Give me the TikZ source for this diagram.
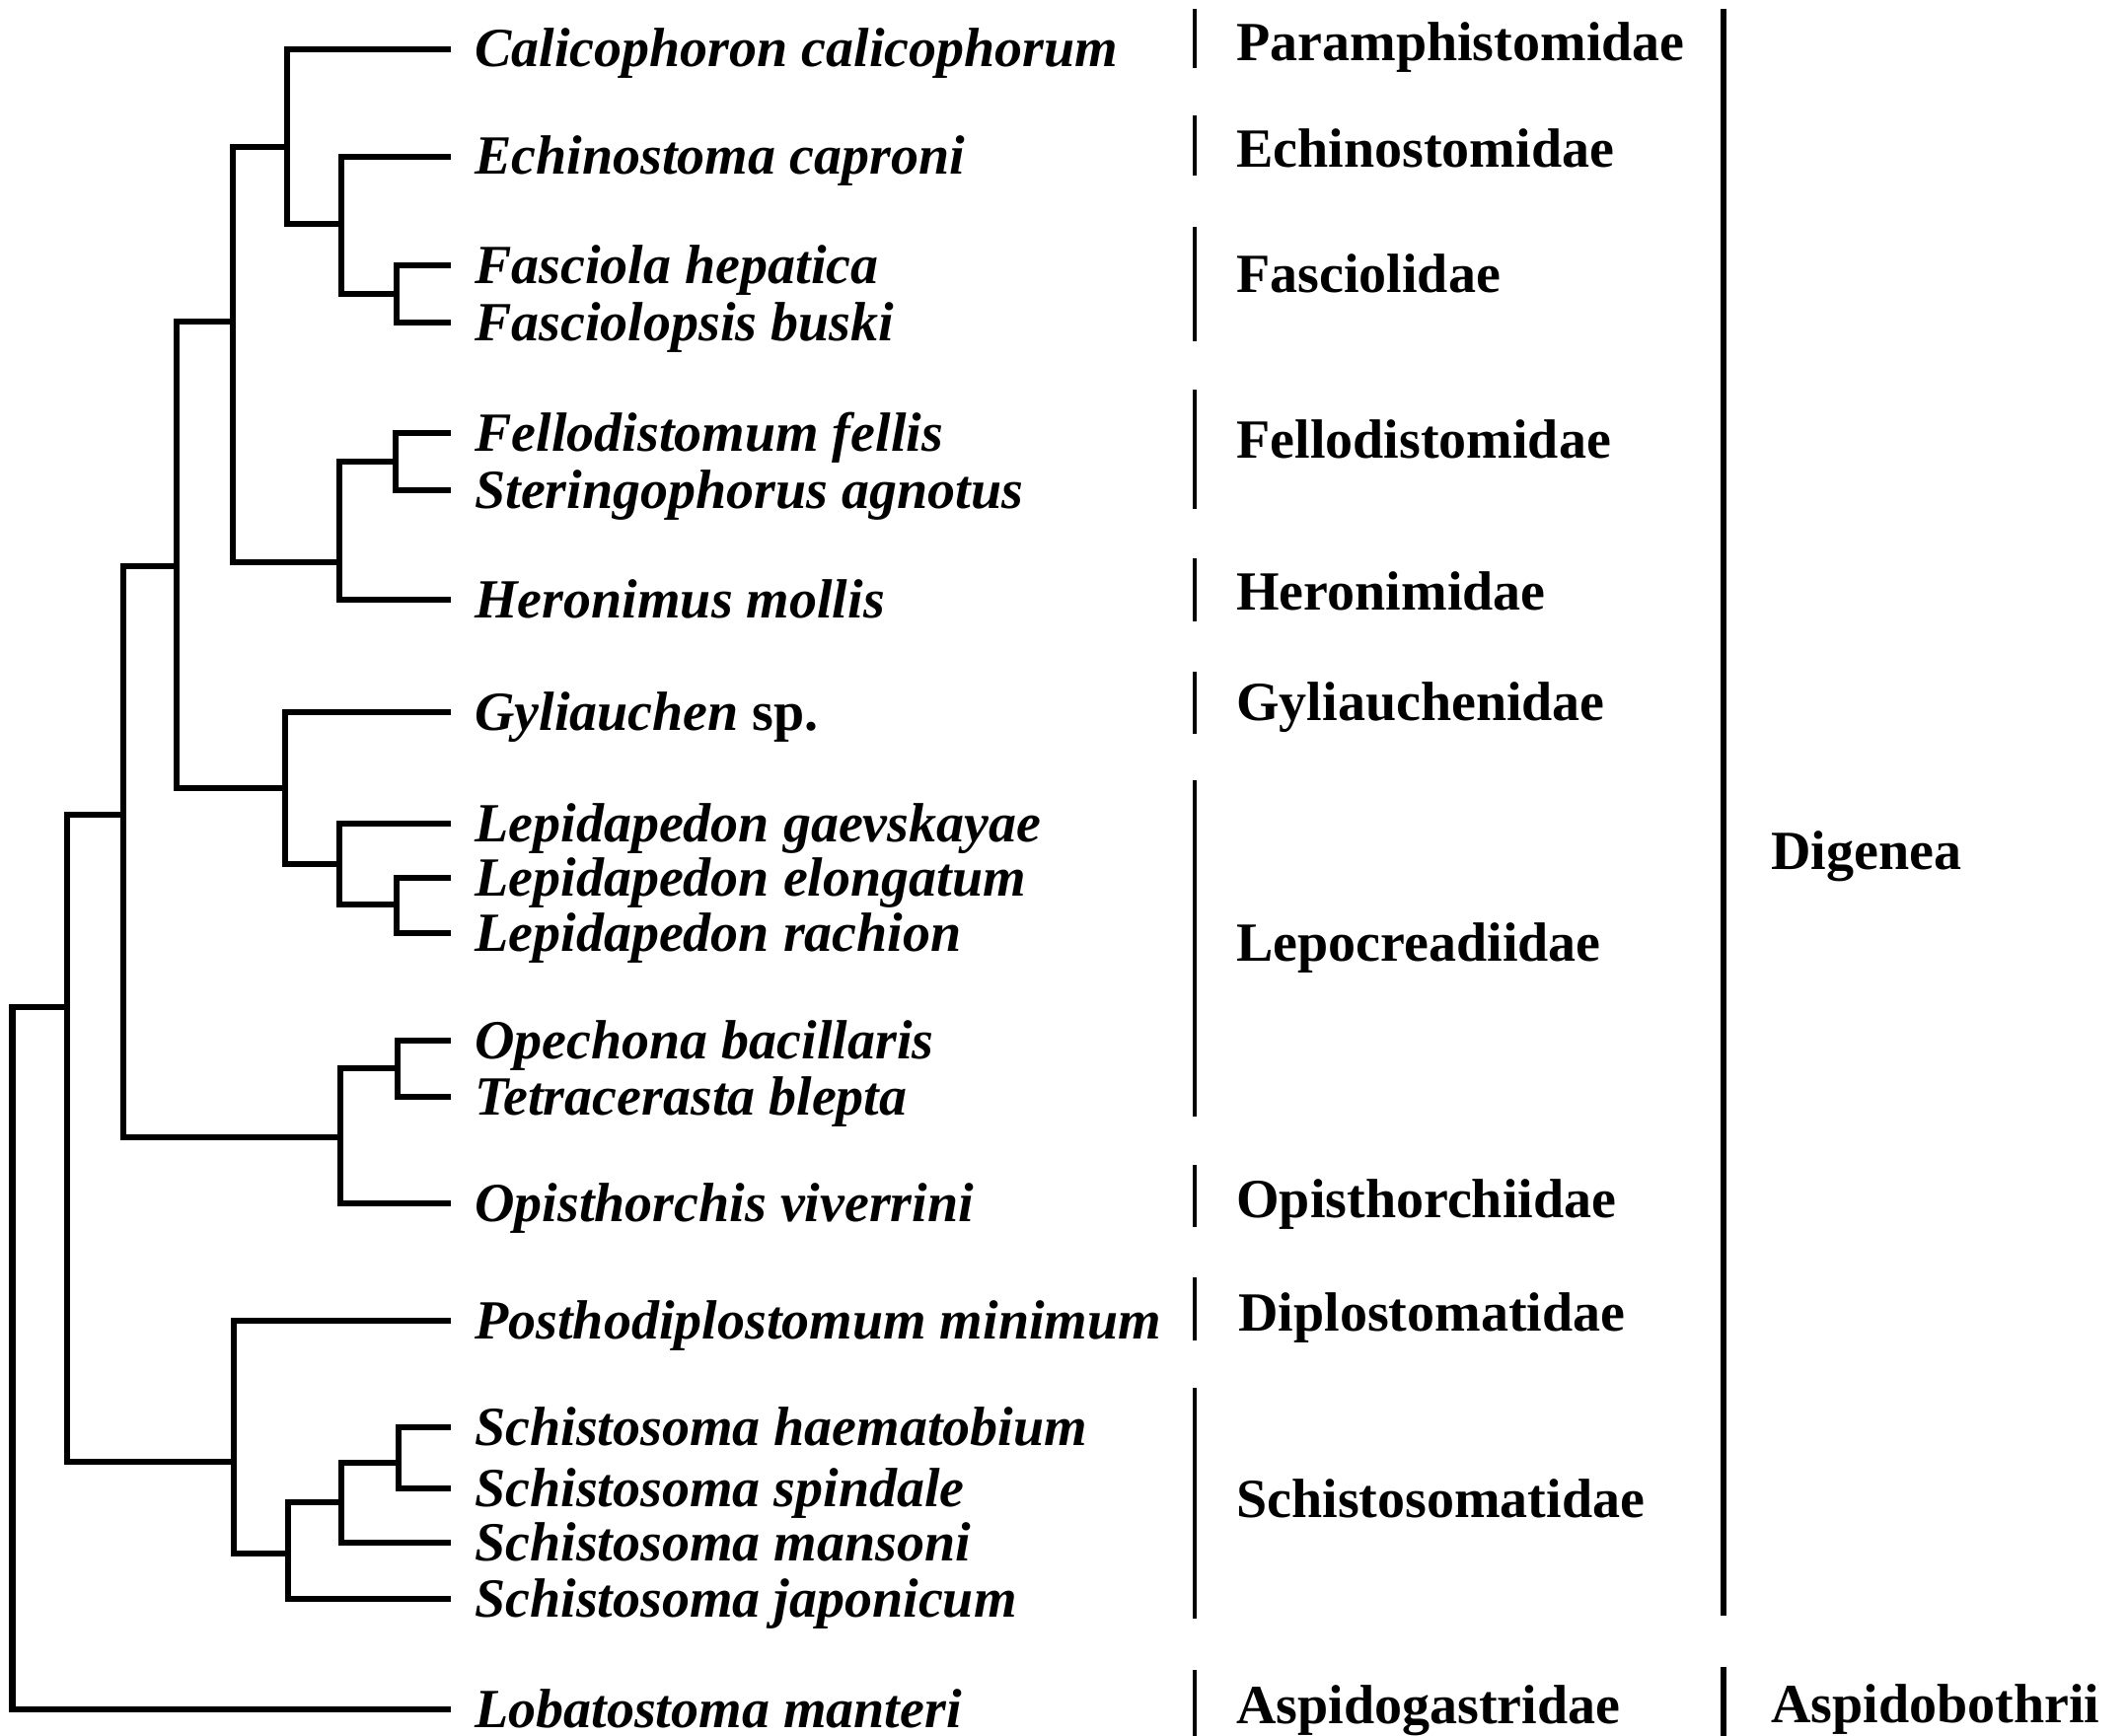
\documentclass[tikz,border=0pt]{standalone}
\usepackage{fontspec}
\setmainfont{Liberation Serif}
\tikzset{
  tree/.style={line width=3.2pt, line cap=butt, line join=miter},
  famrule/.style={line width=2.3pt},
  grouprule/.style={line width=3.1pt},
  sp/.style={anchor=base west, inner sep=0pt, font=\fontsize{28}{33}\selectfont\bfseries\itshape},
  fam/.style={anchor=base west, inner sep=0pt, font=\fontsize{28}{33}\selectfont\bfseries},
}
\begin{document}
\begin{tikzpicture}[x=0.5pt,y=-0.5pt]
\useasboundingbox (0,0) rectangle (2157,1760);

% leaf tips
\coordinate (L1) at (457,50);
\coordinate (L2) at (457,159);
\coordinate (L3) at (457,269);
\coordinate (L4) at (457,327);
\coordinate (L5) at (457,439);
\coordinate (L6) at (457,497);
\coordinate (L7) at (457,608);
\coordinate (L8) at (457,722);
\coordinate (L9) at (457,835);
\coordinate (L10) at (457,890);
\coordinate (L11) at (457,946);
\coordinate (L12) at (457,1055);
\coordinate (L13) at (457,1112);
\coordinate (L14) at (457,1220);
\coordinate (L15) at (457,1339);
\coordinate (L16) at (457,1447);
\coordinate (L17) at (457,1509);
\coordinate (L18) at (457,1564);
\coordinate (L19) at (457,1621);
\coordinate (L20) at (457,1733);

% species names
\node[sp] (s1) at (481,68) {Calicophoron calicophorum};
\node[sp] (s2) at (481,177) {Echinostoma caproni};
\node[sp] (s3) at (481,287) {Fasciola hepatica};
\node[sp] (s4) at (481,345) {Fasciolopsis buski};
\node[sp] (s5) at (481,457) {Fellodistomum fellis};
\node[sp] (s6) at (481,515) {Steringophorus agnotus};
\node[sp] (s7) at (481,626) {Heronimus mollis};
\node[sp] (s8) at (481,740) {Gyliauchen \upshape sp.};
\node[sp] (s9) at (481,853) {Lepidapedon gaevskayae};
\node[sp] (s10) at (481,908) {Lepidapedon elongatum};
\node[sp] (s11) at (481,964) {Lepidapedon rachion};
\node[sp] (s12) at (481,1073) {Opechona bacillaris};
\node[sp] (s13) at (481,1130) {Tetracerasta blepta};
\node[sp] (s14) at (481,1238) {Opisthorchis viverrini};
\node[sp] (s15) at (481,1357) {Posthodiplostomum minimum};
\node[sp] (s16) at (481,1465) {Schistosoma haematobium};
\node[sp] (s17) at (481,1527) {Schistosoma spindale};
\node[sp] (s18) at (481,1582) {Schistosoma mansoni};
\node[sp] (s19) at (481,1639) {Schistosoma japonicum};
\node[sp] (s20) at (481,1751) {Lobatostoma manteri};

% internal nodes (x of vertical, y where the parent joins)
\coordinate (N3) at (402,298);
\coordinate (N2) at (346,227);
\coordinate (N1) at (291,149);
\coordinate (N5) at (401,468);
\coordinate (N6) at (344,570);
\coordinate (N4) at (236,326);
\coordinate (N11) at (402,917);
\coordinate (N10) at (344,876);
\coordinate (N9) at (289,799);
\coordinate (N7) at (179,574);
\coordinate (N12) at (403,1083);
\coordinate (N13) at (345,1153);
\coordinate (N8) at (125,826);
\coordinate (N16) at (404,1483);
\coordinate (N17) at (346,1523);
\coordinate (N18) at (292,1575);
\coordinate (N15) at (237,1482);
\coordinate (N14) at (68,1021);
\coordinate (R) at (12.5,1400);

\draw[tree] (L3) -| (N3) |- (L4);
\draw[tree] (L2) -| (N2) |- (N3);
\draw[tree] (L1) -| (N1) |- (N2);
\draw[tree] (L5) -| (N5) |- (L6);
\draw[tree] (N5) -| (N6) |- (L7);
\draw[tree] (N1) -| (N4) |- (N6);
\draw[tree] (L10) -| (N11) |- (L11);
\draw[tree] (L9) -| (N10) |- (N11);
\draw[tree] (L8) -| (N9) |- (N10);
\draw[tree] (N4) -| (N7) |- (N9);
\draw[tree] (L12) -| (N12) |- (L13);
\draw[tree] (N12) -| (N13) |- (L14);
\draw[tree] (N7) -| (N8) |- (N13);
\draw[tree] (L16) -| (N16) |- (L17);
\draw[tree] (N16) -| (N17) |- (L18);
\draw[tree] (N17) -| (N18) |- (L19);
\draw[tree] (L15) -| (N15) |- (N18);
\draw[tree] (N8) -| (N14) |- (N15);
\draw[tree] (N14) -| (R) |- (L20);

% family bars
\draw[famrule] (1211,9) -- (1211,69);
\draw[famrule] (1211,117) -- (1211,178);
\draw[famrule] (1211,230) -- (1211,346);
\draw[famrule] (1211,395) -- (1211,516);
\draw[famrule] (1211,566) -- (1211,630);
\draw[famrule] (1211,681) -- (1211,744);
\draw[famrule] (1211,791) -- (1211,1132);
\draw[famrule] (1211,1181) -- (1211,1244);
\draw[famrule] (1211,1295) -- (1211,1359);
\draw[famrule] (1211,1407) -- (1211,1641);
\draw[famrule] (1211,1693) -- (1211,1760);

% family names
\node[fam] (f1) at (1253,62) {Paramphistomidae};
\node[fam] (f2) at (1253,170) {Echinostomidae};
\node[fam] (f3) at (1253,297) {Fasciolidae};
\node[fam] (f4) at (1253,464) {Fellodistomidae};
\node[fam] (f5) at (1253,618) {Heronimidae};
\node[fam] (f6) at (1253,730) {Gyliauchenidae};
\node[fam] (f7) at (1253,974) {Lepocreadiidae};
\node[fam] (f8) at (1253,1234) {Opisthorchiidae};
\node[fam] (f9) at (1255,1349) {Diplostomatidae};
\node[fam] (f10) at (1253,1538) {Schistosomatidae};
\node[fam] (f11) at (1253,1747) {Aspidogastridae};

% group bars and names
\draw[grouprule] (1747,9) -- (1747,1638);
\draw[grouprule] (1747,1690) -- (1747,1760);
\node[fam] (g1) at (1795,881) {Digenea};
\node[fam] (g2) at (1795,1746) {Aspidobothrii};
\end{tikzpicture}
\end{document}
